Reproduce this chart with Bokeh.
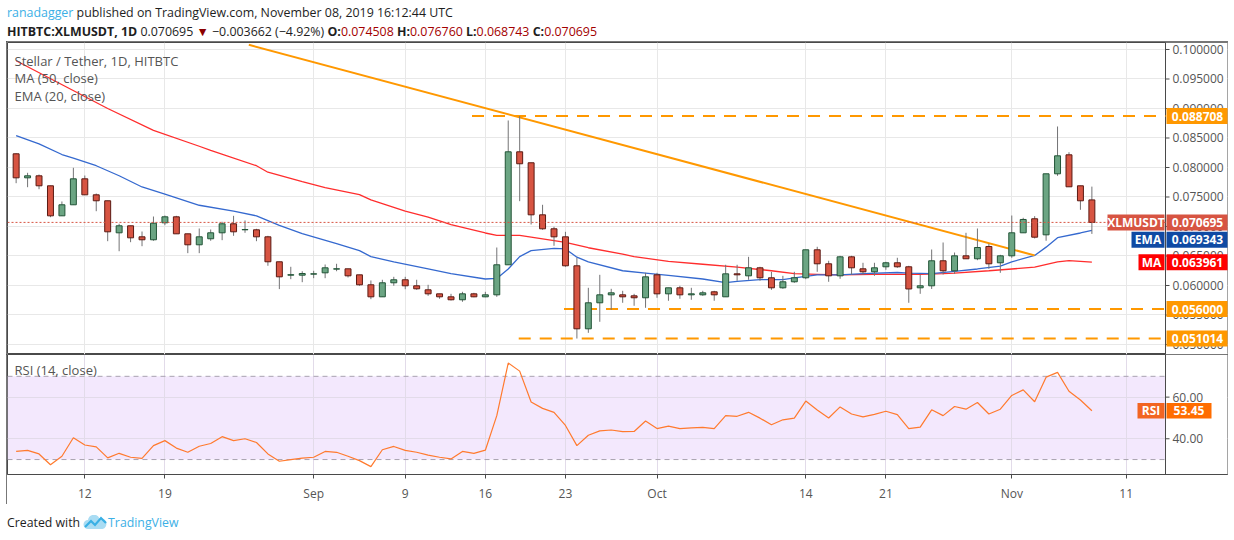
import pandas as pd
from bokeh.plotting import figure
from bokeh.models import (Range1d, FixedTicker, Label, BoxAnnotation, Div, ColumnDataSource)
from bokeh.core.properties import value
from bokeh.layouts import column
from bokeh.embed import file_html
from bokeh.resources import INLINE

# ---------------- data ----------------
dates = pd.date_range("2019-08-06", "2019-11-08", freq="D")

opens = [0.08232, 0.07825, 0.07859, 0.07690, 0.07181, 0.07368, 0.07808, 0.07537, 0.07436, 0.06893,
         0.07012, 0.06825, 0.06775, 0.07063, 0.07164, 0.06876, 0.06690, 0.06792, 0.06893, 0.07046,
         0.06944, 0.06944, 0.06825, 0.06402, 0.06175, 0.06175, 0.06193, 0.06215, 0.06278, 0.06283,
         0.06181, 0.06012, 0.05808, 0.06046, 0.06097, 0.05995, 0.05927, 0.05859, 0.05808, 0.05758,
         0.05859, 0.05808, 0.05842, 0.06351, 0.08266, 0.08080, 0.07198, 0.06961, 0.06825, 0.06334,
         0.05266, 0.05707, 0.05842, 0.05842, 0.05825, 0.05792, 0.06181, 0.05859, 0.05961, 0.05842,
         0.05842, 0.05893, 0.05808, 0.06198, 0.06164, 0.06300, 0.06131, 0.05961, 0.06063, 0.06131,
         0.06605, 0.06368, 0.06164, 0.06486, 0.06283, 0.06232, 0.06317, 0.06385, 0.06317, 0.05961,
         0.05995, 0.06419, 0.06249, 0.06503, 0.06453, 0.06661, 0.06385, 0.06503, 0.06893, 0.07131,
         0.06859, 0.07893, 0.08215, 0.07690, 0.074508]
highs = [0.08240, 0.07910, 0.07881, 0.07690, 0.07424, 0.07995, 0.07864, 0.07559, 0.07436, 0.07046,
         0.07012, 0.06915, 0.07169, 0.07186, 0.07181, 0.06876, 0.06966, 0.06949, 0.07080, 0.07181,
         0.07102, 0.06961, 0.06842, 0.06402, 0.06317, 0.06242, 0.06249, 0.06356, 0.06368, 0.06283,
         0.06181, 0.06085, 0.06097, 0.06147, 0.06147, 0.06097, 0.06012, 0.05859, 0.05859, 0.05893,
         0.05876, 0.05893, 0.06644, 0.08797, 0.08871, 0.08080, 0.07368, 0.06995, 0.06910, 0.06470,
         0.05961, 0.06181, 0.05944, 0.05910, 0.05859, 0.06215, 0.06215, 0.05961, 0.05995, 0.05961,
         0.05910, 0.05910, 0.06351, 0.06351, 0.06486, 0.06317, 0.06232, 0.06164, 0.06232, 0.06605,
         0.06656, 0.06419, 0.06503, 0.06503, 0.06385, 0.06385, 0.06402, 0.06470, 0.06334, 0.06186,
         0.06610, 0.06729, 0.06559, 0.06893, 0.06966, 0.06707, 0.06520, 0.07186, 0.07148, 0.07175,
         0.07893, 0.08695, 0.08259, 0.07690, 0.076760]
lows = [0.07734, 0.07666, 0.07632, 0.07158, 0.07181, 0.07368, 0.07537, 0.07259, 0.06751, 0.06581,
        0.06734, 0.06666, 0.06758, 0.07022, 0.06876, 0.06548, 0.06548, 0.06758, 0.06768, 0.06842,
        0.06893, 0.06751, 0.06334, 0.05939, 0.06107, 0.06056, 0.06124, 0.06124, 0.06242, 0.06136,
        0.05995, 0.05768, 0.05808, 0.05995, 0.05937, 0.05927, 0.05825, 0.05775, 0.05746, 0.05724,
        0.05801, 0.05801, 0.05808, 0.06351, 0.07429, 0.07034, 0.06944, 0.06673, 0.06317, 0.05101,
        0.05198, 0.05385, 0.05588, 0.05707, 0.05656, 0.05622, 0.05792, 0.05741, 0.05775, 0.05758,
        0.05825, 0.05741, 0.05808, 0.06080, 0.06097, 0.06080, 0.05927, 0.05944, 0.06046, 0.06107,
        0.06232, 0.06063, 0.06114, 0.06181, 0.06181, 0.06164, 0.06266, 0.06300, 0.05707, 0.05859,
        0.05941, 0.06186, 0.06198, 0.06453, 0.06429, 0.06283, 0.06215, 0.06470, 0.06893, 0.06797,
        0.06758, 0.07859, 0.07673, 0.07283, 0.068743]
closes = [0.07825, 0.07859, 0.07690, 0.07181, 0.07368, 0.07808, 0.07537, 0.07436, 0.06910, 0.07012,
          0.06808, 0.06775, 0.07056, 0.07164, 0.06876, 0.06690, 0.06825, 0.06893, 0.07046, 0.06910,
          0.06949, 0.06825, 0.06402, 0.06147, 0.06183, 0.06203, 0.06198, 0.06300, 0.06283, 0.06164,
          0.06012, 0.05808, 0.06046, 0.06097, 0.05995, 0.05944, 0.05859, 0.05808, 0.05758, 0.05859,
          0.05808, 0.05842, 0.06351, 0.08266, 0.08063, 0.07198, 0.06961, 0.06825, 0.06334, 0.05266,
          0.05707, 0.05842, 0.05876, 0.05808, 0.05792, 0.06147, 0.05859, 0.05961, 0.05842, 0.05859,
          0.05876, 0.05842, 0.06198, 0.06181, 0.06300, 0.06131, 0.05961, 0.06063, 0.06131, 0.06605,
          0.06368, 0.06164, 0.06486, 0.06300, 0.06232, 0.06300, 0.06385, 0.06317, 0.05941, 0.05995,
          0.06419, 0.06249, 0.06503, 0.06453, 0.06644, 0.06368, 0.06503, 0.06893, 0.07119, 0.06819,
          0.07893, 0.08198, 0.07673, 0.074357, 0.070695]
rsi = [33.9, 34.4, 32.7, 27.5, 31.6, 40.5, 37.0, 36.1, 30.8, 33.0,
       31.1, 30.6, 36.7, 39.1, 35.5, 33.5, 36.4, 37.7, 41.0, 39.1,
       40.0, 38.2, 32.7, 29.2, 30.0, 30.7, 31.1, 33.9, 33.5, 31.6,
       29.5, 26.6, 34.7, 36.3, 34.4, 33.5, 32.1, 31.1, 30.3, 33.9,
       33.0, 34.5, 51.1, 76.4, 72.5, 57.7, 54.6, 52.7, 46.4, 36.7,
       41.7, 43.8, 44.2, 43.4, 43.5, 48.5, 44.9, 46.1, 44.9, 45.2,
       45.5, 44.9, 51.1, 50.8, 52.7, 49.9, 46.7, 49.1, 49.9, 58.1,
       53.8, 50.0, 55.3, 51.9, 50.5, 51.7, 53.2, 51.6, 44.9, 45.6,
       53.9, 51.1, 55.5, 54.2, 57.4, 51.9, 54.2, 60.8, 63.5, 57.8,
       69.6, 71.9, 62.8, 58.6, 53.45]

ema_dates = ["2019-08-06", "2019-08-08", "2019-08-10", "2019-08-11", "2019-08-13", "2019-08-15",
             "2019-08-17", "2019-08-19", "2019-08-22", "2019-08-25", "2019-08-27", "2019-08-29",
             "2019-08-31", "2019-09-03", "2019-09-05", "2019-09-06", "2019-09-08", "2019-09-11",
             "2019-09-13", "2019-09-16", "2019-09-17", "2019-09-18", "2019-09-19", "2019-09-20",
             "2019-09-22", "2019-09-23", "2019-09-24", "2019-09-25", "2019-09-28", "2019-09-30",
             "2019-10-02", "2019-10-05", "2019-10-07", "2019-10-08", "2019-10-10", "2019-10-12",
             "2019-10-13", "2019-10-15", "2019-10-17", "2019-10-19", "2019-10-22", "2019-10-23",
             "2019-10-25", "2019-10-27", "2019-10-29", "2019-10-31", "2019-11-01", "2019-11-03",
             "2019-11-04", "2019-11-05", "2019-11-07", "2019-11-08"]
ema_values = [0.0854, 0.0840, 0.0822, 0.0816, 0.0803, 0.0786,
              0.0767, 0.0755, 0.0736, 0.0726, 0.0718, 0.0702,
              0.0688, 0.0671, 0.0659, 0.0649, 0.0640, 0.0628,
              0.0620, 0.0611, 0.0612, 0.0628, 0.0649, 0.0659,
              0.0663, 0.0662, 0.0648, 0.0640, 0.0625, 0.0621,
              0.0617, 0.0611, 0.0605, 0.0607, 0.0610, 0.0610,
              0.0613, 0.0618, 0.0618, 0.0620, 0.0622, 0.0621,
              0.0620, 0.0624, 0.0628, 0.0633, 0.0640, 0.0651,
              0.0665, 0.0681, 0.0689, 0.069343]
ma_dates = ["2019-08-06", "2019-08-14", "2019-08-18", "2019-08-22", "2019-08-23", "2019-08-27",
            "2019-08-28", "2019-08-31", "2019-09-02", "2019-09-05", "2019-09-06", "2019-09-09",
            "2019-09-11", "2019-09-13", "2019-09-16", "2019-09-17", "2019-09-19", "2019-09-20",
            "2019-09-23", "2019-09-25", "2019-09-28", "2019-09-29", "2019-10-02", "2019-10-05",
            "2019-10-08", "2019-10-11", "2019-10-13", "2019-10-15", "2019-10-17", "2019-10-20",
            "2019-10-22", "2019-10-24", "2019-10-26", "2019-10-27", "2019-10-30", "2019-11-01",
            "2019-11-03", "2019-11-05", "2019-11-06", "2019-11-08"]
ma_values = [0.0981, 0.0900, 0.0863, 0.0836, 0.0829, 0.0803,
             0.0792, 0.0776, 0.0766, 0.0754, 0.0745, 0.0726,
             0.0716, 0.0703, 0.0689, 0.0685, 0.0685, 0.0682,
             0.0673, 0.0664, 0.0653, 0.0649, 0.0641, 0.0636,
             0.0631, 0.0625, 0.0620, 0.0619, 0.0618, 0.0619,
             0.0619, 0.0619, 0.0620, 0.0621, 0.0625, 0.0628,
             0.0631, 0.0640, 0.0642, 0.063961]

trend_dates = ["2019-08-26 08:00", "2019-11-03 00:00"]
trend_prices = [0.1008, 0.0651]
level_prices = [0.088708, 0.056000, 0.051014]
level_starts = ["2019-09-14 20:00", "2019-09-22 21:00", "2019-09-18 22:00"]

date_ticks = ["2019-08-12", "2019-08-19", "2019-09-01", "2019-09-09", "2019-09-16", "2019-09-23",
              "2019-10-01", "2019-10-14", "2019-10-21", "2019-11-01", "2019-11-11"]
date_tick_labels = ["12", "19", "Sep", "9", "16", "23", "Oct", "14", "21", "Nov", "11"]
price_ticks = [0.050, 0.055, 0.060, 0.065, 0.070, 0.075, 0.080, 0.085, 0.090, 0.095, 0.100]
rsi_ticks = [40, 60]
rsi_band = [30, 70]

# ---------------- helpers ----------------
def ms(t):
    return pd.Timestamp(t).value / 1e6

FONT = "Open Sans"
DAY = 86400000.0
PX_PER_DAY = 11.444
FIG_W = 1222
FRAME_W = FIG_W - 2
PX = DAY / PX_PER_DAY                                # one horizontal pixel in ms
x_start = ms("2019-08-12") - 6.755 * DAY
x_end = x_start + FRAME_W * PX
x_axis = x_start + 1158 * PX                          # price-scale line position
tick_ms = [ms(d) for d in date_ticks]
AXIS_C = "#4a4a4a"
LABEL_C = "#555555"

up = [c >= o for o, c in zip(opens, closes)]
src = ColumnDataSource(dict(
    x=dates, o=opens, h=highs, l=lows, c=closes,
    top=[max(o, c) for o, c in zip(opens, closes)],
    bottom=[min(o, c) for o, c in zip(opens, closes)],
    fill=["#6ba583" if u else "#d75442" for u in up],
    edge=["#225437" if u else "#5b1a13" for u in up],
))


def price_scale(fig, ticks, fmt, y0, y1):
    """white strip + scale line + ticks + labels at the right of the chart"""
    fig.quad(left=[x_axis], right=[x_end + DAY], bottom=[y0], top=[y1],
             fill_color="white", line_color=None)
    fig.segment(x0=[x_axis], y0=[y0], x1=[x_axis], y1=[y1], line_color=AXIS_C, line_width=1)
    fig.segment(x0=[x_axis] * len(ticks), y0=ticks, x1=[x_axis + 4 * PX] * len(ticks), y1=ticks,
                line_color=AXIS_C, line_width=1)
    fig.text(x=[x_axis] * len(ticks), y=ticks, text=[fmt.format(t) for t in ticks],
             x_offset=7, text_align="left", text_baseline="middle",
             text_font=value(FONT), text_font_size="12px", text_color=LABEL_C)


def tag(fig, y, text, bg, width_px, unit_per_px, right_side=True, shift_px=0.0):
    yc = y - shift_px * unit_per_px
    h = 16 * unit_per_px
    if right_side:
        left = x_axis + 1 * PX
        right = left + width_px * PX
    else:
        right = x_axis - 1 * PX
        left = right - width_px * PX
    fig.quad(left=[left], right=[right], bottom=[yc - h / 2], top=[yc + h / 2],
             fill_color=bg, line_color=None)
    fig.text(x=[(left + right) / 2], y=[yc], text=[text], text_align="center",
             text_baseline="middle", text_font=value(FONT), text_font_size="12px",
             text_font_style="bold", text_color="white")


# ---------------- price panel ----------------
PY0, PY1 = 0.048305, 0.101186
P_UNIT = (PY1 - PY0) / 312
p = figure(width=FIG_W, height=313, x_axis_type="datetime",
           x_range=Range1d(x_start, x_end), y_range=Range1d(PY0, PY1),
           toolbar_location=None, output_backend="svg",
           min_border_left=1, min_border_right=1, min_border_top=1, min_border_bottom=0,
           outline_line_color=AXIS_C, outline_line_width=1)
p.xaxis.visible = False
p.yaxis.visible = False
p.xgrid.ticker = FixedTicker(ticks=tick_ms)
p.ygrid.ticker = FixedTicker(ticks=price_ticks)
p.grid.grid_line_color = "#e8e8e8"

price_scale(p, price_ticks, "{:.6f}", PY0, PY1)

# indicator / drawing lines (behind candles)
p.line([pd.Timestamp(d) for d in ma_dates], ma_values, line_color="#ff2d2d", line_width=1.3)
p.line([pd.Timestamp(d) for d in ema_dates], ema_values, line_color="#3569cf", line_width=1.3)
p.line([pd.Timestamp(d) for d in trend_dates], trend_prices, line_color="#ff9800", line_width=2)
p.segment(x0=[pd.Timestamp(d) for d in level_starts], y0=level_prices,
          x1=[x_axis] * len(level_prices), y1=level_prices,
          line_color="#ff9800", line_width=2, line_dash="12 9")

# candles
p.segment(x0="x", y0="h", x1="x", y1="l", source=src, line_color="#737375", line_width=1)
p.vbar(x="x", top="top", bottom="bottom", width=0.52 * DAY, source=src,
       fill_color="fill", line_color="edge", line_width=1)

# last price line
p.segment(x0=[x_start], y0=[closes[-1]], x1=[x_axis], y1=[closes[-1]],
          line_color="#d75442", line_dash="2 2", line_width=1)

for i, txt in enumerate(["Stellar / Tether, 1D, HITBTC", "MA (50, close)", "EMA (20, close)"]):
    p.add_layout(Label(x=7, y=294 - 17.5 * i, x_units="screen", y_units="screen", text=txt,
                       text_font=FONT, text_font_size="13px", text_color=LABEL_C,
                       text_baseline="middle"))

for lv in level_prices:
    tag(p, lv, f"{lv:.6f}", "#ff9800", 62, P_UNIT)
tag(p, ma_values[-1], f"{ma_values[-1]:.6f}", "#ff0000", 62, P_UNIT)
tag(p, ma_values[-1], "MA", "#ff0000", 26, P_UNIT, right_side=False)
tag(p, ema_values[-1], f"{ema_values[-1]:.6f}", "#0f4aa3", 62, P_UNIT, shift_px=9.5)
tag(p, ema_values[-1], "EMA", "#0f4aa3", 33, P_UNIT, right_side=False, shift_px=9.5)
tag(p, closes[-1], f"{closes[-1]:.6f}", "#d75442", 62, P_UNIT)
tag(p, closes[-1], "XLMUSDT", "#d75442", 57, P_UNIT, right_side=False)

# ---------------- RSI panel ----------------
RY0, RY1 = 22.82, 80.49
R_UNIT = (RY1 - RY0) / 123
r = figure(width=FIG_W, height=150, x_axis_type="datetime",
           x_range=p.x_range, y_range=Range1d(RY0, RY1),
           toolbar_location=None, output_backend="svg",
           min_border_left=1, min_border_right=1, min_border_top=0, min_border_bottom=27,
           outline_line_color=AXIS_C, outline_line_width=1)
r.yaxis.visible = False
r.add_layout(BoxAnnotation(bottom=rsi_band[0], top=rsi_band[1], right=x_axis,
                           fill_color="#f3e8fd", fill_alpha=1.0, line_color=None, level="image"))
r.xgrid.ticker = FixedTicker(ticks=tick_ms)
r.ygrid.ticker = FixedTicker(ticks=rsi_ticks)
r.grid.grid_line_color = "#e2dbe9"
ax = r.xaxis
ax.ticker = FixedTicker(ticks=tick_ms)
ax.major_label_overrides = {t: lbl for t, lbl in zip(tick_ms, date_tick_labels)}
ax.major_label_text_font = FONT
ax.major_label_text_font_size = "12px"
ax.major_label_text_color = LABEL_C
ax.axis_line_color = AXIS_C
ax.major_tick_line_color = AXIS_C
ax.major_tick_in = 0
ax.major_tick_out = 4
ax.minor_tick_line_color = None
ax.major_label_standoff = 6

price_scale(r, rsi_ticks, "{:.2f}", RY0, RY1)
r.segment(x0=[x_start] * 2, y0=rsi_band, x1=[x_axis] * 2, y1=rsi_band,
          line_color="#a8a2b0", line_dash="5 4", line_width=1)
r.line(dates, rsi, line_color="#ff7a2e", line_width=1.2)
r.add_layout(Label(x=7, y=105, x_units="screen", y_units="screen", text="RSI (14, close)",
                   text_font=FONT, text_font_size="13px", text_color=LABEL_C,
                   text_baseline="middle"))
tag(r, rsi[-1], f"{rsi[-1]:.2f}", "#ff6d00", 45, R_UNIT)
tag(r, rsi[-1], "RSI", "#f26522", 27, R_UNIT, right_side=False)

# ---------------- header / footer ----------------
chg = closes[-1] - closes[-2]
pct = chg / closes[-2] * 100
dark_red = "#a30000"
header_html = (
    f'<div style="padding:3px 0 0 7px;font-family:\'{FONT}\';font-size:12.4px;line-height:19px;'
    f'color:#1e1e1e;white-space:nowrap;">'
    f'<span style="color:#3cb0e6">ranadagger</span> published on TradingView.com, November 08, 2019 16:12:44 UTC<br>'
    f'<b>HITBTC:XLMUSDT, 1D</b> {closes[-1]:.6f} <span style="color:#8b0000">&#9660;</span> '
    f'&minus;{abs(chg):.6f} (&minus;{abs(pct):.2f}%) '
    f'<b>O:</b><span style="color:{dark_red}">{opens[-1]:.6f}</span> '
    f'<b>H:</b><span style="color:{dark_red}">{highs[-1]:.6f}</span> '
    f'<b>L:</b><span style="color:{dark_red}">{lows[-1]:.6f}</span> '
    f'<b>C:</b><span style="color:{dark_red}">{closes[-1]:.6f}</span></div>'
)
header = Div(text=header_html, width=1228, height=41, margin=0)

logo = ('<svg width="24" height="15" viewBox="0 0 24 15" style="vertical-align:-3px;margin:0 1px 0 3px">'
        '<path d="M5 14 a4.5 4.5 0 0 1 0-9 a6 6 0 0 1 11.5-1.5 a5 5 0 0 1 3 10.5 z" fill="#a9dcf3"/>'
        '<polyline points="2,12 8,6 12,10 18,3 23,8" fill="none" stroke="#39b0e5" stroke-width="2.2"/>'
        '</svg>')
footer_html = (
    f'<div style="padding:10px 0 0 7px;font-family:\'{FONT}\';font-size:12.3px;line-height:17px;'
    f'color:#1e1e1e;white-space:nowrap;">Created with{logo}<span style="color:#3cb0e6">TradingView</span></div>'
)
footer = Div(text=footer_html, width=1228, height=30, margin=0)

chart = column(p, r, margin=(0, 0, 0, 6),
               styles={"outline": "1px solid #4a4a4a", "outline-offset": "-1px"})
layout = column(header, chart, footer, margin=0)

open("out.html", "w").write(file_html(layout, INLINE, title="XLMUSDT"))
